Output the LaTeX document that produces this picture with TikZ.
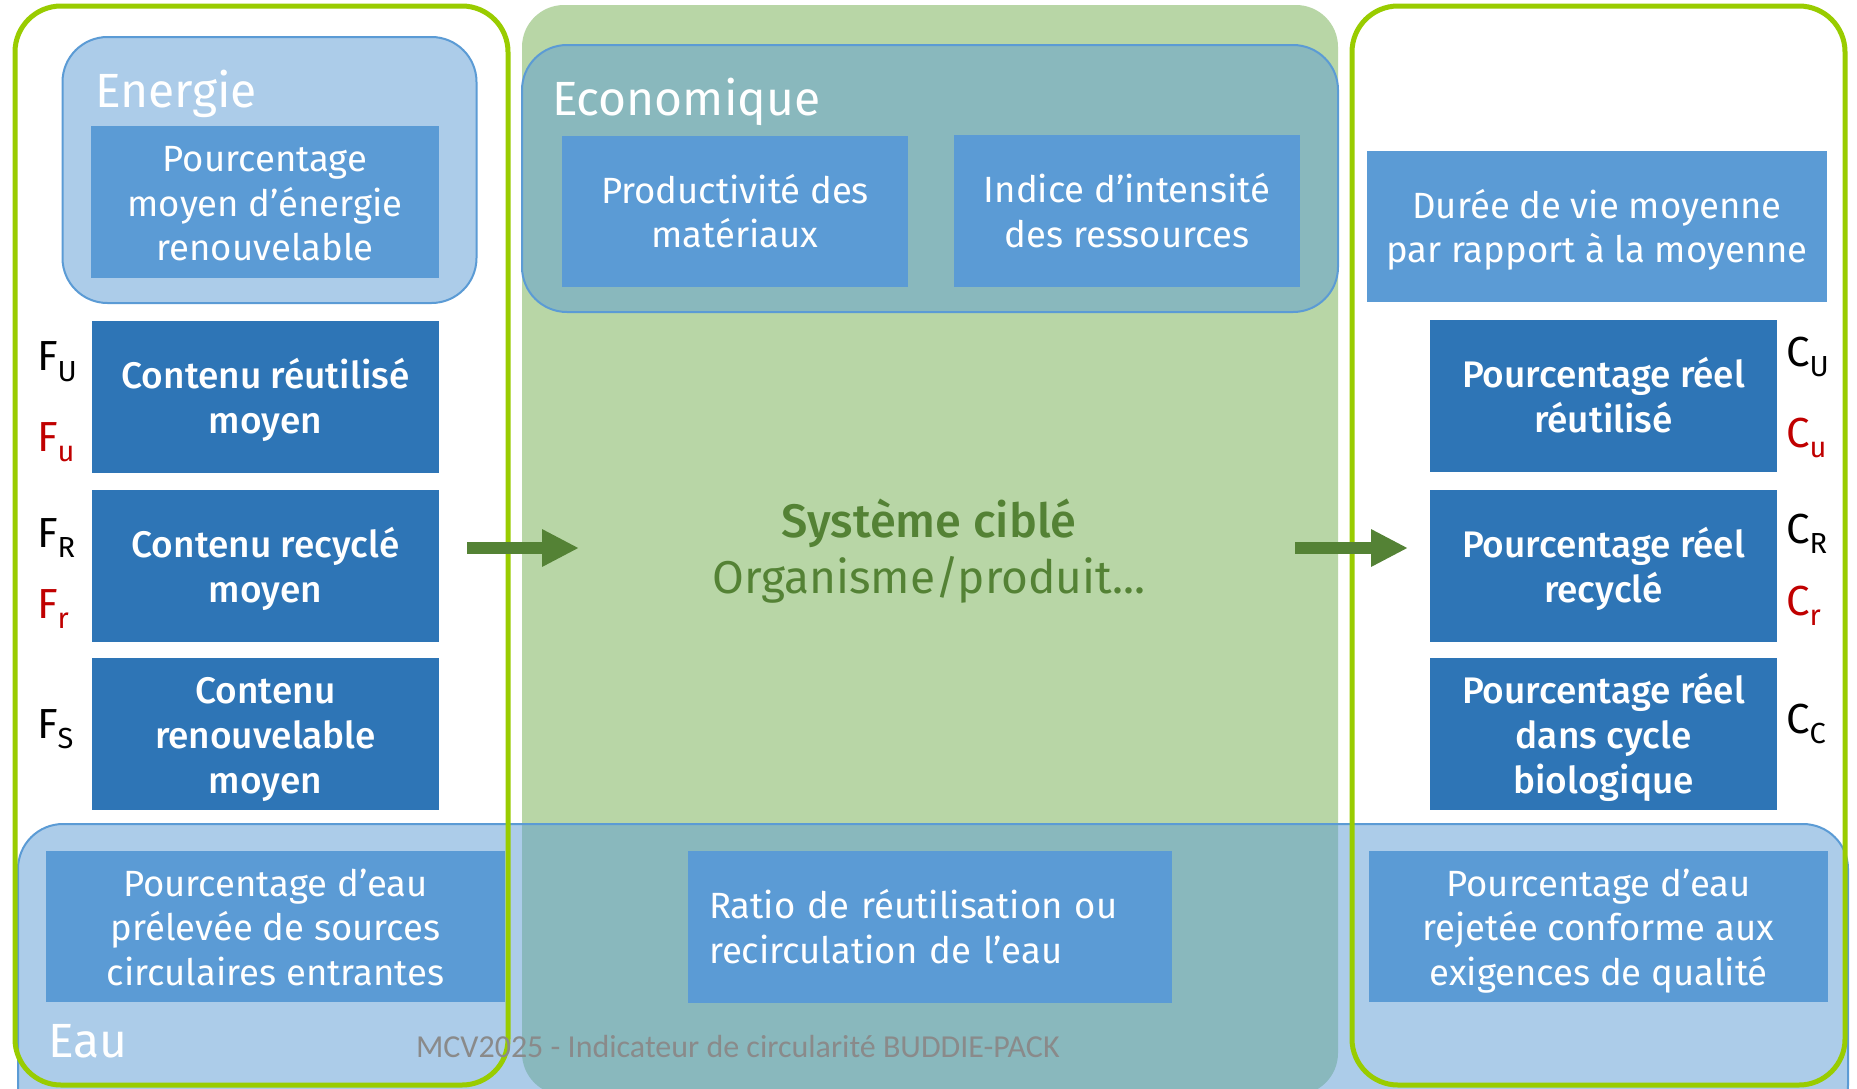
\documentclass[tikz,border=0pt]{standalone}
\usepackage{fontspec}
\setmainfont{Fira Sans}
\newfontfamily\medfont{Fira Sans Medium}
\newfontfamily\calfont{Carlito}
\usepackage{tikz}
\usetikzlibrary{arrows.meta}

\definecolor{frgreen}{RGB}{153,204,0}
\definecolor{sysgreen}{RGB}{184,214,166}
\definecolor{midblue}{RGB}{91,155,213}
\definecolor{darkblue}{RGB}{46,117,182}
\definecolor{txtgreen}{RGB}{84,130,53}
\definecolor{labred}{RGB}{192,0,0}
\definecolor{wmgray}{RGB}{138,138,138}

\newcommand\labsub[1]{{\fontsize{29}{29}\selectfont\raisebox{-10.5pt}{#1}}}
\newcommand\lnup{\rule{0pt}{38pt}}
\newcommand\lndown{\rule[-10pt]{0pt}{10pt}}

\begin{document}
\begin{tikzpicture}
	[x=1pt,y=-1pt,every node/.style={inner sep=0pt,outer sep=0pt},
	 groupbox/.style={rounded corners=45pt,fill=midblue,fill opacity=0.5,draw=midblue,draw opacity=1,line width=2pt},
	 greenframe/.style={draw=frgreen,line width=5pt,rounded corners=46pt},
	 darkbox/.style={fill=darkblue,text=white,align=center,minimum width=347pt,minimum height=152pt,font=\medfont\fontsize{37}{45}\selectfont},
	 lightbox/.style={fill=midblue,text=white,align=center,font=\fontsize{36.5}{44.5}\selectfont},
	 grouptitle/.style={anchor=base west,text=white,font=\fontsize{48}{48}\selectfont},
	 sidelab/.style={anchor=base west,font=\fontsize{42}{42}\selectfont},
	 flow/.style={draw=txtgreen,line width=12pt,-{Triangle[length=37pt,width=35pt]}}]
	\useasboundingbox (0,0) rectangle (1857,1088);
	\fill[white] (0,0) rectangle (1857,1088);
	
	% regions
	\node[rounded corners=42pt,fill=sysgreen,minimum width=816pt,minimum height=1090pt] (sysreg) at (930,550) {};
	\node[groupbox,minimum width=414pt,minimum height=266pt] (energie) at (269.5,170) {};
	\node[groupbox,minimum width=816pt,minimum height=267pt] (eco) at (930,178.5) {};
	\node[groupbox,minimum width=1830pt,minimum height=306pt] (eau) at (933,977) {};
	\node[greenframe,minimum width=493pt,minimum height=1079pt] (entree) at (261.5,545.5) {};
	\node[greenframe,minimum width=493pt,minimum height=1079pt] (sortie) at (1598.5,545.5) {};
	
	% boxes
	\node[lightbox,minimum width=348pt,minimum height=152pt] (nrg) at (265,202) {\lnup Pourcentage\\moyen d’énergie\\renouvelable\lndown};
	\node[darkbox] (reu) at (265.5,397) {\lnup Contenu réutilisé\\moyen\lndown};
	\node[darkbox] (rec) at (265.5,566) {\lnup Contenu recyclé\\moyen\lndown};
	\node[darkbox] (ren) at (265.5,734) {\lnup Contenu\\renouvelable\\moyen\lndown};
	\node[lightbox,minimum width=346pt,minimum height=151pt] (prod) at (735,211.5) {\lnup Productivité des\\matériaux\lndown};
	\node[lightbox,minimum width=346pt,minimum height=152pt] (ind) at (1127,211) {\lnup Indice d’intensité\\des ressources\lndown};
	\node[lightbox,minimum width=460pt,minimum height=151pt] (duree) at (1597,226.5) {\lnup Durée de vie moyenne\\par rapport à la moyenne\lndown};
	\node[darkbox] (creu) at (1603.5,396) {\lnup Pourcentage réel\\réutilisé\lndown};
	\node[darkbox] (crec) at (1603.5,566) {\lnup Pourcentage réel\\recyclé\lndown};
	\node[darkbox] (cbio) at (1603.5,734) {\lnup Pourcentage réel\\dans cycle\\biologique\lndown};
	\node[lightbox,minimum width=459pt,minimum height=151pt] (eau1) at (275.5,926.5) {\lnup Pourcentage d’eau\\prélevée de sources\\circulaires entrantes\lndown};
	\node[lightbox,align=left,text width=442pt,inner xsep=21pt,minimum height=152pt] (ratio) at (930,927) {\lnup Ratio de réutilisation ou\\recirculation de l’eau\lndown};
	\node[lightbox,minimum width=459pt,minimum height=151pt] (eau3) at (1598.5,926.5) {\lnup Pourcentage d’eau\\rejetée conforme aux\\exigences de qualité\lndown};
	
	% titles
	\node[grouptitle] (tnrg) at (95,107) {Energie};
	\node[grouptitle] (teco) at (552,115) {Economique};
	\node[grouptitle] (teau) at (48,1057) {Eau};
	\node[anchor=base,text=txtgreen,font=\medfont\fontsize{47}{47}\selectfont] (sys) at (929,537) {Système ciblé};
	\node[anchor=base,text=txtgreen,font=\fontsize{46}{46}\selectfont] (org) at (929,593) {Organisme/produit...};
	
	% labels
	\node[sidelab] (fu) at (37,370.5) {F\labsub{U}};
	\node[sidelab,text=labred] (fu2) at (37,451) {F\labsub{u}};
	\node[sidelab] (fr) at (37,547) {F\labsub{R}};
	\node[sidelab,text=labred] (fr2) at (37,618) {F\labsub{r}};
	\node[sidelab] (fs) at (37,738) {F\labsub{S}};
	\node[sidelab] (cu) at (1786,366) {C\labsub{U}};
	\node[sidelab,text=labred] (cu2) at (1786,447) {C\labsub{u}};
	\node[sidelab] (cr) at (1786,543) {C\labsub{R}};
	\node[sidelab,text=labred] (cr2) at (1786,615) {C\labsub{r}};
	\node[sidelab] (cc) at (1786,733) {C\labsub{C}};
	
	\coordinate (in1) at (467,548);
	\coordinate (in2) at (579,548);
	\coordinate (out1) at (1295,548);
	\coordinate (out2) at (1408,548);
	\foreach \from/\to in {in1/in2, out1/out2}
	\draw[flow] (\from) -- (\to);
	
	\node[anchor=base west,text=wmgray,font=\calfont\fontsize{32}{32}\selectfont] (wm) at (416,1057) {MCV2025 - Indicateur de circularité BUDDIE-PACK};
\end{tikzpicture}
\end{document}
